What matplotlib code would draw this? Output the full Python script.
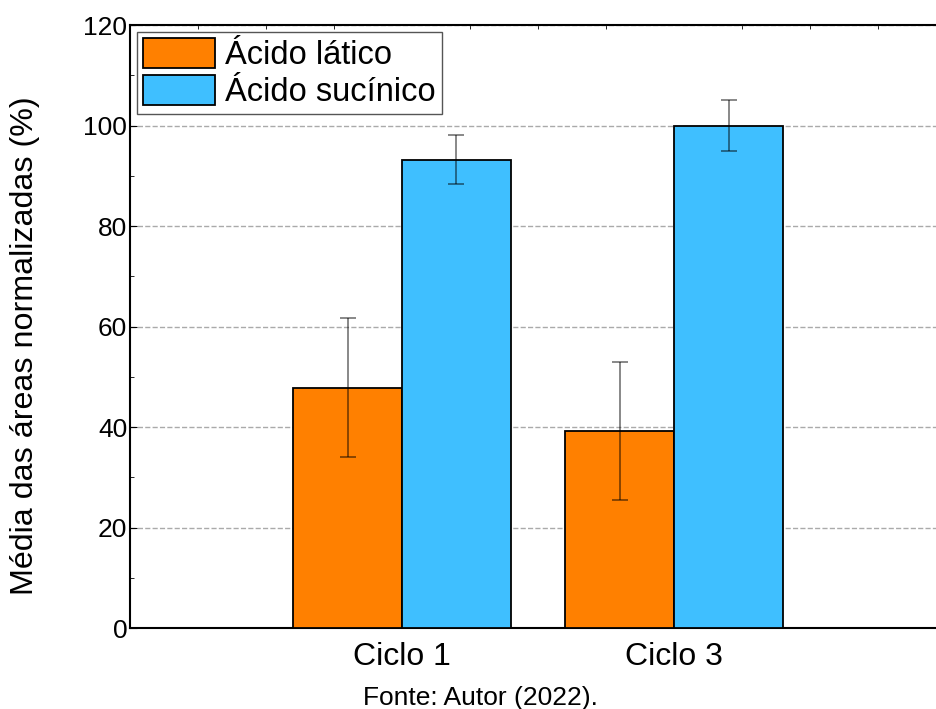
import numpy as np
import matplotlib.pyplot as plt
from matplotlib.ticker import MultipleLocator

plt.rcParams['font.family'] = ['Liberation Sans', 'DejaVu Sans']

ciclos = ['Ciclo 1', 'Ciclo 3']
latico = [47.8, 39.2]
latico_err = [13.8, 13.7]
sucinico = [93.2, 100.0]
sucinico_err = [4.9, 5.0]

x = np.array([1, 2])
w = 0.4

fig = plt.figure(figsize=(9.36, 7.09), dpi=100)
ax = fig.add_axes([0.1389, 0.1142, 0.872, 0.8505])

err_kw = dict(ecolor=(0, 0, 0, 0.5), elinewidth=1.3, capsize=6, capthick=1.3)
ax.bar(x - w / 2, latico, w, yerr=latico_err, color='#FF8000', edgecolor='k',
       linewidth=1.3, label='Ácido lático', error_kw=err_kw, zorder=3)
ax.bar(x + w / 2, sucinico, w, yerr=sucinico_err, color='#3FBFFF', edgecolor='k',
       linewidth=1.3, label='Ácido sucínico', error_kw=err_kw, zorder=3)

ax.set_xlim(0, 3)
ax.set_ylim(0, 120)
ax.set_xticks(x)
ax.set_xticklabels(ciclos, fontsize=23)
ax.xaxis.set_minor_locator(MultipleLocator(0.25))
ax.yaxis.set_major_locator(MultipleLocator(20))
ax.yaxis.set_minor_locator(MultipleLocator(10))
ax.tick_params(axis='x', which='both', bottom=False, top=True, direction='in',
               labelbottom=True, pad=10)
ax.tick_params(axis='x', which='major', length=0)
ax.tick_params(axis='x', which='minor', length=3)
ax.tick_params(axis='y', which='major', direction='in', length=5, labelsize=19, pad=2)
ax.tick_params(axis='y', which='minor', direction='in', length=3)
for s in ax.spines.values():
    s.set_linewidth(1.5)

ax.yaxis.grid(True, linestyle='--', color='#aaaaaa', linewidth=1, zorder=0)
ax.set_axisbelow(True)

ax.set_ylabel('Média das áreas normalizadas (%)', fontsize=23.2)
ax.yaxis.set_label_coords(-0.110, 0.468)

leg = ax.legend(loc='upper left', fontsize=23.5, fancybox=False, framealpha=1,
                edgecolor='#555555', handlelength=2.2, handleheight=1.05,
                borderaxespad=0.2, borderpad=0.2, labelspacing=0.1,
                handletextpad=0.3)
leg.get_frame().set_linewidth(1.0)

fig.text(0.513, 0.006, 'Fonte: Autor (2022).', ha='center', va='baseline', fontsize=19)

fig.savefig('out.png', dpi=100)
